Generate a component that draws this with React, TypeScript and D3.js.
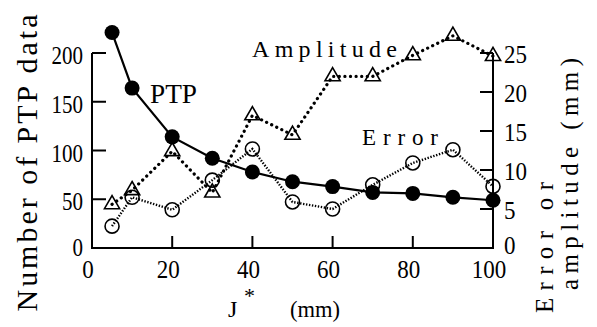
import * as d3 from "d3";

// J* (mm)
const jValues = [5, 10, 20, 30, 40, 50, 60, 70, 80, 90, 100];
// number of PTP data (left axis)
const ptpCounts = [221, 164, 114, 92, 78, 68, 63, 57, 56, 52, 49];
// amplitude (mm, right axis)
const amplitude = [5.6, 7.4, 12.4, 7.1, 17.0, 14.5, 22.0, 22.0, 24.7, 27.2, 24.6];
// error (mm, right axis)
const errorMm = [2.8, 6.5, 4.9, 8.7, 12.7, 5.9, 5.0, 8.1, 10.9, 12.6, 7.9];

const xTicks = [0, 20, 40, 60, 80, 100];
const leftTicks = [0, 50, 100, 150, 200];
const rightTicks = [0, 5, 10, 15, 20, 25];

const width = 597;
const height = 327;
const serif =
  '"Times New Roman", "Liberation Serif", Tinos, "Noto Serif", "DejaVu Serif", FreeSerif, Times, serif';

const App = () => {
  const x = d3.scaleLinear().domain([0, 100]).range([92, 493]);
  const yLeft = d3.scaleLinear().domain([0, 200]).range([248, 53]);
  const yRight = d3.scaleLinear().domain([0, 25]).range([248, 53]);

  const ptp = jValues.map((j, i) => ({ j, v: ptpCounts[i] }));
  const amp = jValues.map((j, i) => ({ j, v: amplitude[i] }));
  const err = jValues.map((j, i) => ({ j, v: errorMm[i] }));

  const leftLine = d3
    .line<{ j: number; v: number }>()
    .x((d) => x(d.j))
    .y((d) => yLeft(d.v));
  const rightLine = d3
    .line<{ j: number; v: number }>()
    .x((d) => x(d.j))
    .y((d) => yRight(d.v));

  const triangle = d3.symbol().type(d3.symbolTriangle).size(100)();

  const [x0, x1] = x.range();
  const y0 = yLeft(0);
  const yTop = yLeft(200);

  return (
    <svg
      width={width}
      height={height}
      style={{ position: "absolute", left: 0, top: 0, background: "#fff" }}
    >
      <g style={{ fontFamily: serif }}>
        {/* axes frame: left, bottom, right */}
        <path
          d={`M${x0},${yTop}V${y0}H${x1}V${yRight(25)}`}
          fill="none"
          stroke="#000"
          strokeWidth={2}
        />

        {/* x ticks (inward) */}
        {xTicks.map((t) => (
          <g key={"xt" + t}>
            {t > 0 && t < 100 && (
              <line x1={x(t)} x2={x(t)} y1={y0} y2={y0 - 12} stroke="#000" strokeWidth={2} />
            )}
            <text
              x={x(t) - 4}
              y={278}
              fontSize={25}
              textAnchor="middle"
              textLength={String(t).length * 11.5}
              lengthAdjust="spacingAndGlyphs"
            >
              {t}
            </text>
          </g>
        ))}

        {/* left ticks */}
        {leftTicks.map((t) => (
          <g key={"lt" + t}>
            {t > 0 && (
              <line x1={x0} x2={x0 + 14} y1={yLeft(t)} y2={yLeft(t)} stroke="#000" strokeWidth={2} />
            )}
            <text
              x={83}
              y={yLeft(t) + (t === 0 ? 8 : 11)}
              fontSize={25}
              textAnchor="end"
              textLength={String(t).length * 10.5}
              lengthAdjust="spacingAndGlyphs"
            >
              {t}
            </text>
          </g>
        ))}

        {/* right ticks */}
        {rightTicks.map((t) => (
          <g key={"rt" + t}>
            {t > 0 && (
              <line x1={x1 - 13} x2={x1} y1={yRight(t)} y2={yRight(t)} stroke="#000" strokeWidth={2} />
            )}
            <text
              x={504}
              y={yRight(t) + (t === 0 ? 6 : 10)}
              fontSize={25}
              textAnchor="start"
              textLength={String(t).length * 11.5}
              lengthAdjust="spacingAndGlyphs"
            >
              {t}
            </text>
          </g>
        ))}

        {/* amplitude: thick dotted line with triangles */}
        <path
          d={rightLine(amp) ?? ""}
          fill="none"
          stroke="#000"
          strokeWidth={3.2}
          strokeDasharray="0.1 5.5"
          strokeLinecap="round"
        />
        {amp.map((d) => (
          <path
            key={"a" + d.j}
            d={triangle ?? ""}
            transform={`translate(${x(d.j)},${yRight(d.v)})`}
            fill="none"
            stroke="#000"
            strokeWidth={1.6}
          />
        ))}

        {/* error: fine dotted line with open circles */}
        <path
          d={rightLine(err) ?? ""}
          fill="none"
          stroke="#000"
          strokeWidth={2.4}
          strokeDasharray="1.4 1.6"
        />
        {err.map((d) => (
          <circle
            key={"e" + d.j}
            cx={x(d.j)}
            cy={yRight(d.v)}
            r={7}
            fill="none"
            stroke="#000"
            strokeWidth={1.6}
          />
        ))}

        {/* PTP: solid line with filled circles */}
        <path d={leftLine(ptp) ?? ""} fill="none" stroke="#000" strokeWidth={2.2} />
        {ptp.map((d) => (
          <circle key={"p" + d.j} cx={x(d.j)} cy={yLeft(d.v)} r={7.5} fill="#000" />
        ))}

        {/* series labels */}
        <text x={150} y={103} fontSize={27} textLength={47} lengthAdjust="spacingAndGlyphs">
          PTP
        </text>
        <text x={252} y={57} fontSize={24} textLength={145} lengthAdjust="spacing">
          Amplitude
        </text>
        <text x={362} y={145} fontSize={23} textLength={76} lengthAdjust="spacing">
          Error
        </text>

        {/* axis titles */}
        <text
          transform="translate(37,163) rotate(-90)"
          fontSize={30}
          textAnchor="middle"
          textLength={297}
          lengthAdjust="spacing"
        >
          Number of PTP data
        </text>
        <text
          transform="translate(553,313) rotate(-90)"
          fontSize={25}
          textLength={131}
          lengthAdjust="spacing"
        >
          Error or
        </text>
        <text
          transform="translate(578,290) rotate(-90)"
          fontSize={25}
          textLength={232}
          lengthAdjust="spacing"
        >
          amplitude (mm)
        </text>
        <text x={228} y={317} fontSize={24}>
          J
        </text>
        <text x={244} y={303} fontSize={22}>
          *
        </text>
        <text x={290} y={317} fontSize={24} textLength={50} lengthAdjust="spacingAndGlyphs">
          (mm)
        </text>
      </g>
    </svg>
  );
};

export default App;
